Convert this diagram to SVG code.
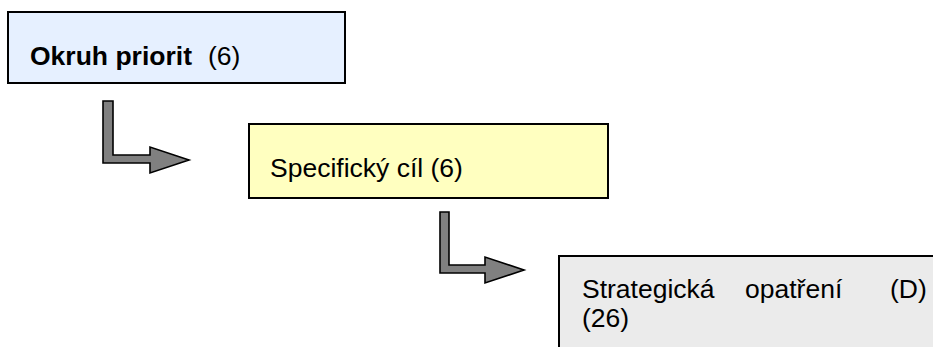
<svg xmlns="http://www.w3.org/2000/svg" width="933" height="347" viewBox="0 0 933 347">
<style>
.box{stroke:#000;stroke-width:2}
.t{font-family:"Liberation Sans",Arial,sans-serif;font-size:26.5px;fill:#000}
.b{font-weight:bold}
.arr{fill:#808080;stroke:#000;stroke-width:1.6;stroke-linejoin:miter}
</style>
<rect width="933" height="347" fill="#fff"/>
<g id="node-okruh">
<rect class="box" x="8" y="12" width="337" height="71" fill="#E6F0FF"/>
<text class="t" y="65"><tspan x="30" class="b">Okruh priorit</tspan><tspan x="208">(6)</tspan></text>
</g>
<g id="node-cil">
<rect class="box" x="249" y="124" width="359" height="74" fill="#FFFFC0"/>
<text class="t" x="270" y="177">Specifický cíl (6)</text>
</g>
<g id="node-opatreni">
<rect class="box" x="559" y="256" width="400" height="100" fill="#EBEBEB"/>
<text class="t" y="298"><tspan x="582">Strategická</tspan><tspan x="745">opatření</tspan><tspan x="890">(D)</tspan></text>
<text class="t" x="582" y="327">(26)</text>
</g>
<g id="connectors">
<path class="arr" d="M103,101 L113,101 L113,155 L150,155 L150,147 L189,160 L150,173 L150,163 L103,163 Z"/>
<path class="arr" d="M440,212 L449,212 L449,265 L485,265 L485,257 L524,270 L485,283 L485,273 L440,273 Z"/>
</g>
</svg>
